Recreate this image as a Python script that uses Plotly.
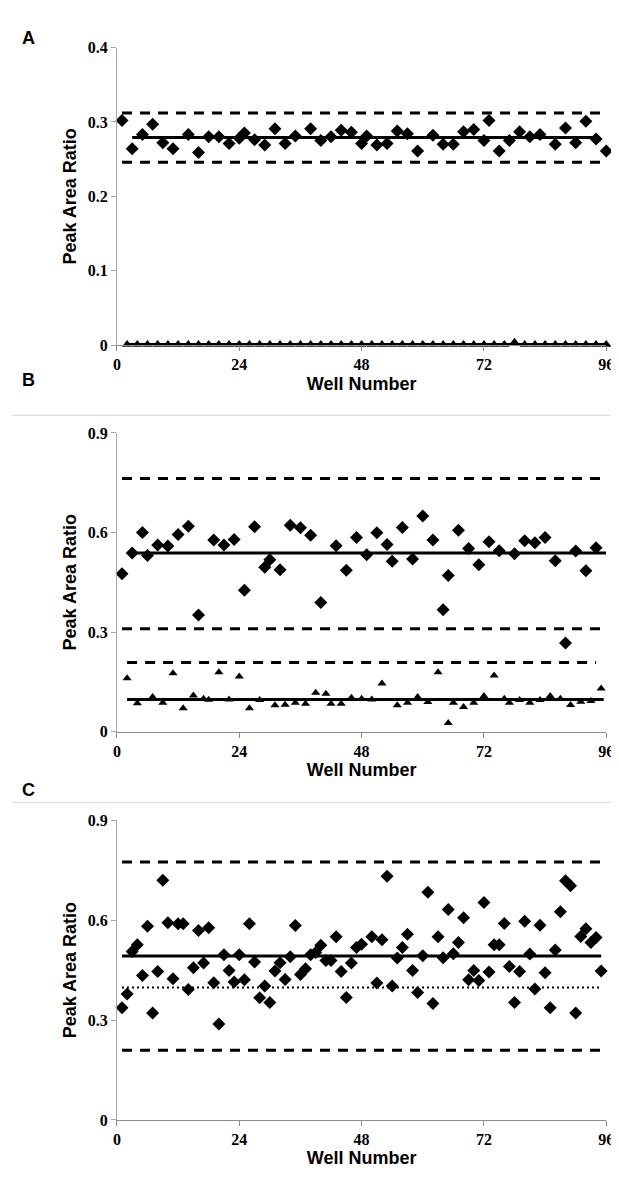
import plotly.graph_objects as go

# ---------------- data ----------------
# Panel A
a_dia_wells = [1,3,5,7,9,11,14,16,18,20,22,24,25,27,29,31,33,35,38,40,42,44,46,48,
               49,51,53,55,57,59,62,64,66,68,70,72,73,75,77,79,81,83,86,88,90,92,94,96]
a_dia_vals = [0.302,0.264,0.283,0.297,0.272,0.264,0.283,0.259,0.280,0.280,0.271,0.278,
              0.285,0.276,0.269,0.291,0.271,0.281,0.291,0.275,0.280,0.289,0.286,0.271,
              0.281,0.269,0.271,0.288,0.284,0.261,0.282,0.270,0.270,0.287,0.290,0.275,
              0.302,0.261,0.275,0.287,0.280,0.283,0.270,0.292,0.272,0.301,0.277,0.261]
a_tri_wells = list(range(2, 97, 2))
a_tri_vals = [0.004 if w == 78 else 0.001 for w in a_tri_wells]
a_mean, a_ucl, a_lcl, a_tri_mean = 0.279, 0.312, 0.246, 0.001
a_mean_span, a_lim_span, a_tri_span = [3, 94], [1, 96], [2, 96]

# Panel B
b_dia_wells = [1,3,5,6,8,10,12,14,16,19,21,23,25,27,29,30,32,34,36,38,40,43,45,47,
               49,51,53,54,56,58,60,62,64,65,67,69,71,73,75,78,80,82,84,86,88,90,92,94]
b_dia_vals = [0.476,0.538,0.600,0.531,0.562,0.559,0.594,0.619,0.351,0.577,0.562,0.579,
              0.426,0.617,0.495,0.518,0.488,0.622,0.614,0.592,0.389,0.560,0.486,0.585,
              0.533,0.599,0.564,0.513,0.615,0.520,0.650,0.577,0.367,0.470,0.607,0.552,
              0.503,0.572,0.545,0.536,0.575,0.569,0.585,0.515,0.267,0.544,0.485,0.554]
b_tri_wells = [2,4,7,9,11,13,15,17,18,20,22,24,26,28,31,33,35,37,39,41,42,44,46,48,
               50,52,55,57,59,61,63,65,66,68,70,72,74,76,77,79,81,83,85,87,89,91,93,95]
b_tri_vals = [0.161,0.085,0.104,0.087,0.176,0.070,0.109,0.099,0.096,0.179,0.097,0.166,
              0.070,0.095,0.079,0.081,0.087,0.084,0.117,0.114,0.084,0.084,0.102,0.099,
              0.097,0.145,0.079,0.087,0.104,0.089,0.179,0.026,0.087,0.074,0.087,0.107,
              0.169,0.099,0.087,0.095,0.087,0.095,0.107,0.099,0.080,0.090,0.092,0.130]
b_mean, b_ucl, b_lcl = 0.538, 0.763, 0.310
b_tri_mean, b_tri_ucl = 0.097, 0.208
b_mean_span, b_lim_span = [2.5, 96], [1, 96]
b_tri_mean_span, b_tri_ucl_span = [2, 95.5], [2, 94]

# Panel C
c_wells = [1,2,3,4,5,6,7,8,9,10,11,12,13,14,15,16,17,18,19,20,21,22,23,24,25,26,27,28,
           29,30,31,32,33,34,35,36,37,38,39,40,41,42,43,44,45,46,47,48,50,51,52,53,54,
           55,56,57,58,59,60,61,62,63,64,65,66,67,68,69,70,71,72,73,74,75,76,77,78,79,
           80,81,82,83,84,85,86,87,88,89,90,91,92,93,94,95]
c_vals = [0.337,0.378,0.506,0.526,0.434,0.582,0.321,0.446,0.720,0.592,0.424,0.589,0.589,
          0.392,0.457,0.569,0.471,0.577,0.412,0.288,0.496,0.449,0.414,0.496,0.421,0.589,
          0.474,0.367,0.402,0.353,0.447,0.472,0.422,0.490,0.584,0.437,0.454,0.496,0.503,
          0.525,0.479,0.479,0.550,0.446,0.368,0.471,0.518,0.528,0.550,0.411,0.541,0.732,
          0.402,0.486,0.518,0.558,0.449,0.383,0.493,0.684,0.350,0.550,0.487,0.632,0.499,
          0.533,0.607,0.421,0.449,0.419,0.653,0.444,0.526,0.526,0.590,0.461,0.353,0.446,
          0.597,0.498,0.393,0.585,0.442,0.337,0.510,0.625,0.718,0.703,0.321,0.551,0.574,
          0.533,0.548,0.447]
c_mean, c_ucl, c_lcl, c_dot = 0.492, 0.775, 0.209, 0.398
c_mean_span, c_lim_span, c_dot_span = [1, 95], [1, 96], [1, 95]

x_ticks = [0, 24, 48, 72, 96]

# ---------------- figure ----------------
W, H = 619, 1184
fig = go.Figure()

DASH = "10px,8px"
BLK = "#000000"


def hline(span, val, axis, dash="solid", width=3):
    xa, ya = axis
    fig.add_trace(go.Scatter(x=span, y=[val, val], mode="lines",
                             line=dict(color=BLK, width=width, dash=dash),
                             xaxis=xa, yaxis=ya, showlegend=False, hoverinfo="skip",
                             cliponaxis=False))


def pts(xs, ys, axis, symbol, size):
    xa, ya = axis
    fig.add_trace(go.Scatter(x=xs, y=ys, mode="markers",
                             marker=dict(symbol=symbol, size=size, color=BLK),
                             xaxis=xa, yaxis=ya, showlegend=False, cliponaxis=False))


A = ("x", "y")
B = ("x2", "y2")
C = ("x3", "y3")

# Panel A
hline(a_lim_span, a_ucl, A, DASH)
hline(a_lim_span, a_lcl, A, DASH)
hline(a_mean_span, a_mean, A)
hline(a_tri_span, a_tri_mean, A)
pts(a_dia_wells, a_dia_vals, A, "diamond", 10)
pts(a_tri_wells, a_tri_vals, A, "triangle-up", 9)

# Panel B
hline(b_lim_span, b_ucl, B, DASH)
hline(b_lim_span, b_lcl, B, DASH)
hline(b_mean_span, b_mean, B)
hline(b_tri_ucl_span, b_tri_ucl, B, DASH)
hline(b_tri_mean_span, b_tri_mean, B)
pts(b_dia_wells, b_dia_vals, B, "diamond", 10)
pts(b_tri_wells, b_tri_vals, B, "triangle-up", 8)

# Panel C
hline(c_lim_span, c_ucl, C, DASH)
hline(c_lim_span, c_lcl, C, DASH)
hline(c_mean_span, c_mean, C)
hline(c_dot_span, c_dot, C, "2px,3px", 2)
pts(c_wells, c_vals, C, "diamond", 10)


def px_dom(top, bottom):
    return [1 - bottom / H, 1 - top / H]


xdom = [107 / W, 606 / W]
tickfont = dict(family="Liberation Serif", size=16, color=BLK, weight="bold")
titlefont = dict(family="Liberation Sans", size=18, color=BLK, weight="bold")

xcommon = dict(domain=xdom, range=[0, 96], tickvals=x_ticks, showgrid=False, zeroline=False,
               showline=True, linecolor="#8c8c8c", linewidth=1, ticks="outside", ticklen=5,
               tickcolor="#8c8c8c", tickfont=tickfont,
               title=dict(text="Well Number", font=titlefont, standoff=4))
ycommon = dict(showgrid=False, zeroline=False, showline=True, linecolor="#a6a6a6", linewidth=1,
               ticks="outside", ticklen=5, tickcolor="#a6a6a6", tickfont=tickfont,
               title=dict(text="Peak Area Ratio", font=titlefont, standoff=6))

fig.update_layout(
    width=W, height=H,
    margin=dict(l=0, r=0, t=0, b=0),
    paper_bgcolor="white", plot_bgcolor="white",
    xaxis=dict(anchor="y", **xcommon),
    xaxis2=dict(anchor="y2", **xcommon),
    xaxis3=dict(anchor="y3", **xcommon),
    yaxis=dict(anchor="x", domain=px_dom(32, 334), range=[0, 0.4], dtick=0.1, **ycommon),
    yaxis2=dict(anchor="x2", domain=px_dom(423, 726), range=[0, 0.9], dtick=0.3, **ycommon),
    yaxis3=dict(anchor="x3", domain=px_dom(816, 1120), range=[0, 0.9], dtick=0.3, **ycommon),
    showlegend=False,
)

# panel separators
for yy in [405, 798]:
    fig.add_shape(type="line", xref="paper", yref="paper", x0=0, x1=1,
                  y0=1 - yy / H, y1=1 - yy / H, line=dict(color="#e3e3e3", width=1.5))

# panel letters
for letter, yy in [("A", 22), ("B", 369), ("C", 785)]:
    fig.add_annotation(text=letter, xref="paper", yref="paper", x=17 / W, y=1 - yy / H,
                       showarrow=False, xanchor="center", yanchor="middle",
                       font=dict(family="Liberation Sans", size=18, color=BLK, weight="bold"))

fig.write_html("out.html")
